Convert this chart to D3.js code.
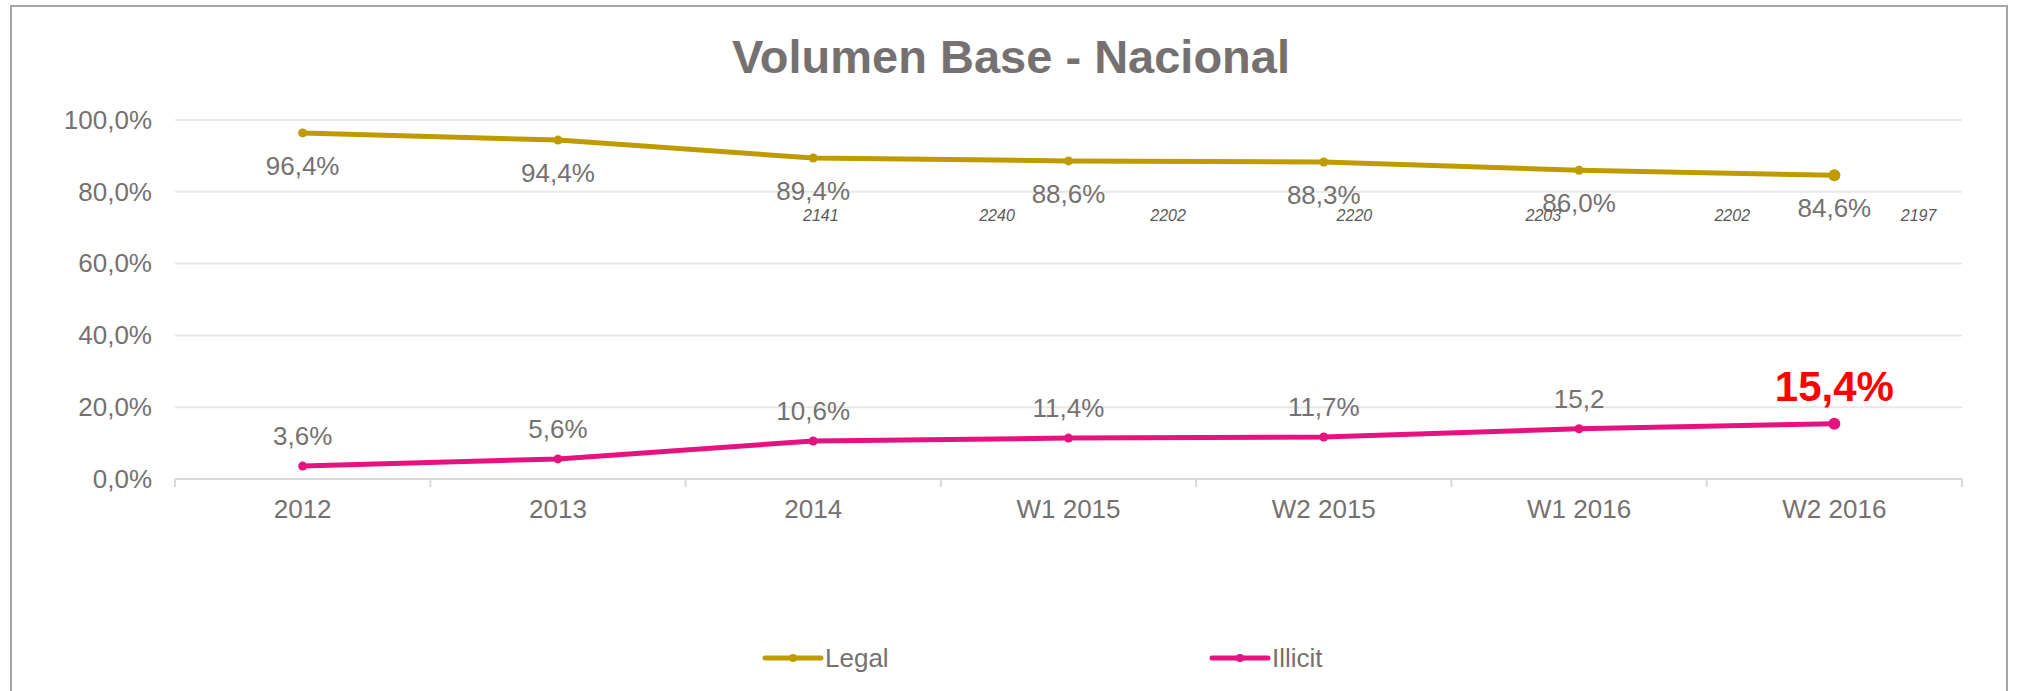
<!DOCTYPE html>
<html>
<head>
<meta charset="utf-8">
<script src="https://cdn.jsdelivr.net/npm/d3@7"></script>
<style>
  body { margin: 0; background: #fff; }
  text { font-family: "Liberation Sans", Arial, sans-serif; }
</style>
</head>
<body>
<svg width="2018" height="691"></svg>
<script>
var categories = ["2012", "2013", "2014", "W1 2015", "W2 2015", "W1 2016", "W2 2016"];
var legalValues = [96.4, 94.4, 89.4, 88.6, 88.3, 86.0, 84.6];
var illicitValues = [3.6, 5.6, 10.6, 11.4, 11.7, 14.0, 15.4];
var legalLabels = ["96,4%", "94,4%", "89,4%", "88,6%", "88,3%", "86,0%", "84,6%"];
var illicitLabels = ["3,6%", "5,6%", "10,6%", "11,4%", "11,7%", "15,2", "15,4%"];
var sampleLabels = ["2141", "2240", "2202", "2220", "2203", "2202", "2197"];
var yTicks = [0, 20, 40, 60, 80, 100];

// where the loose sample-size text boxes sit, in category units
var samplePos = [2.03, 2.72, 3.39, 4.12, 4.86, 5.60, 6.33];

var svg = d3.select("svg"),
    width = +svg.attr("width"),
    height = +svg.attr("height");

var grey = "#767171",
    legalColor = "#BF9B00",
    illicitColor = "#E5127F";

var plotLeft = 175, plotRight = 1962, plotTop = 120, plotBottom = 479;

var x = d3.scaleBand().domain(categories).range([plotLeft, plotRight]);
var bw = x.bandwidth();
function cx(d) { return x(d) + bw / 2; }
var xi = d3.scaleLinear().domain([0, 1]).range([plotLeft + bw / 2, plotLeft + bw * 1.5]);
var y = d3.scaleLinear().domain([0, 100]).range([plotBottom, plotTop]);

// frame
svg.append("rect")
    .attr("x", 11).attr("y", 6)
    .attr("width", 1996).attr("height", 720)
    .attr("fill", "none")
    .attr("stroke", "#A6A6A6")
    .attr("stroke-width", 2);

svg.append("text")
    .attr("x", 1011).attr("y", 73)
    .attr("text-anchor", "middle")
    .attr("font-size", 47)
    .attr("font-weight", "bold")
    .attr("fill", grey)
    .text("Volumen Base - Nacional");

// grid
svg.append("g")
    .selectAll("line")
    .data(yTicks.filter(function(d) { return d > 0; }))
    .enter().append("line")
    .attr("x1", plotLeft).attr("x2", plotRight)
    .attr("y1", function(d) { return y(d); })
    .attr("y2", function(d) { return y(d); })
    .attr("stroke", "#E8E8E8")
    .attr("stroke-width", 2);

// y axis
var yAxis = svg.append("g")
    .attr("transform", "translate(" + plotLeft + ",0)")
    .call(d3.axisLeft(y).tickValues(yTicks).tickSize(0).tickPadding(23)
        .tickFormat(function(d) { return d.toFixed(1).replace(".", ",") + "%"; }));
yAxis.select(".domain").remove();
yAxis.selectAll("text")
    .attr("font-size", 26)
    .attr("font-family", "Liberation Sans, Arial, sans-serif")
    .attr("fill", grey);

// x axis
svg.append("line")
    .attr("x1", plotLeft).attr("x2", plotRight)
    .attr("y1", plotBottom).attr("y2", plotBottom)
    .attr("stroke", "#D9D9D9")
    .attr("stroke-width", 2);

svg.append("g")
    .selectAll("line")
    .data(d3.range(categories.length + 1))
    .enter().append("line")
    .attr("x1", function(i) { return plotLeft + i * bw; })
    .attr("x2", function(i) { return plotLeft + i * bw; })
    .attr("y1", plotBottom).attr("y2", plotBottom + 8)
    .attr("stroke", "#D9D9D9")
    .attr("stroke-width", 2);

svg.append("g")
    .selectAll("text")
    .data(categories)
    .enter().append("text")
    .attr("x", cx)
    .attr("y", plotBottom + 39)
    .attr("text-anchor", "middle")
    .attr("font-size", 26)
    .attr("fill", grey)
    .text(function(d) { return d; });

var line = d3.line()
    .x(function(d, i) { return cx(categories[i]); })
    .y(function(d) { return y(d); });

function drawSeries(values, color) {
    svg.append("path")
        .datum(values)
        .attr("d", line)
        .attr("fill", "none")
        .attr("stroke", color)
        .attr("stroke-width", 5)
        .attr("stroke-linejoin", "round");
    svg.append("g")
        .selectAll("circle")
        .data(values)
        .enter().append("circle")
        .attr("cx", function(d, i) { return cx(categories[i]); })
        .attr("cy", function(d) { return y(d); })
        .attr("r", function(d, i) { return i === values.length - 1 ? 6 : 4.5; })
        .attr("fill", color);
}

drawSeries(legalValues, legalColor);
drawSeries(illicitValues, illicitColor);

// labels
svg.append("g")
    .selectAll("text")
    .data(legalValues)
    .enter().append("text")
    .attr("x", function(d, i) { return cx(categories[i]); })
    .attr("y", function(d) { return y(d) + 42; })
    .attr("text-anchor", "middle")
    .attr("font-size", 26)
    .attr("fill", grey)
    .text(function(d, i) { return legalLabels[i]; });

svg.append("g")
    .selectAll("text")
    .data(illicitValues)
    .enter().append("text")
    .attr("x", function(d, i) { return cx(categories[i]); })
    .attr("y", function(d, i) { return y(d) - (i === illicitValues.length - 1 ? 23 : 21); })
    .attr("text-anchor", "middle")
    .attr("font-size", function(d, i) { return i === illicitValues.length - 1 ? 42 : 26; })
    .attr("font-weight", function(d, i) { return i === illicitValues.length - 1 ? "bold" : "normal"; })
    .attr("fill", function(d, i) { return i === illicitValues.length - 1 ? "#FF0000" : grey; })
    .text(function(d, i) { return illicitLabels[i]; });

svg.append("g")
    .selectAll("text")
    .data(sampleLabels)
    .enter().append("text")
    .attr("x", function(d, i) { return xi(samplePos[i]); })
    .attr("y", 221)
    .attr("text-anchor", "middle")
    .attr("font-size", 16)
    .attr("font-style", "italic")
    .attr("fill", "#595959")
    .text(function(d) { return d; });

// legend
var legend = svg.append("g")
    .selectAll("g")
    .data([{ name: "Legal", color: legalColor, x: 765 }, { name: "Illicit", color: illicitColor, x: 1212 }])
    .enter().append("g")
    .attr("transform", function(d) { return "translate(" + d.x + ",658)"; });
legend.append("line")
    .attr("x1", 0).attr("x2", 56)
    .attr("stroke", function(d) { return d.color; })
    .attr("stroke-width", 5)
    .attr("stroke-linecap", "round");
legend.append("circle")
    .attr("cx", 28).attr("r", 4)
    .attr("fill", function(d) { return d.color; });
legend.append("text")
    .attr("x", 60).attr("y", 9)
    .attr("font-size", 26)
    .attr("fill", grey)
    .text(function(d) { return d.name; });
</script>
</body>
</html>
